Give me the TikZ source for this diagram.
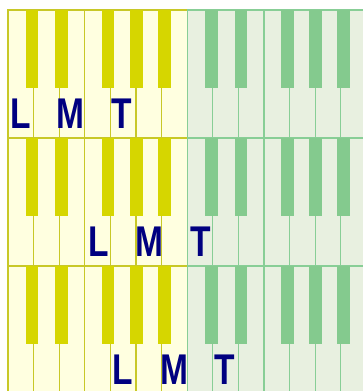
\documentclass[tikz,border=0pt]{standalone}
\usepackage{fontspec}
\setmainfont{Liberation Sans}
\definecolor{yelbg}{RGB}{255,255,224}
\definecolor{yelline}{RGB}{200,200,40}
\definecolor{yelkey}{RGB}{214,214,0}
\definecolor{grnbg}{RGB}{232,240,224}
\definecolor{grnline}{RGB}{136,206,150}
\definecolor{grnkey}{RGB}{132,202,142}
\definecolor{navy}{RGB}{0,0,128}
\begin{document}
\begin{tikzpicture}[x=1pt,y=-1pt,line join=miter,
  whitekey/.style={line width=1.3pt},
  blackkey/.style={inner sep=0pt},
  lbl/.style={font=\fontsize{43}{43}\selectfont\bfseries,text=navy,xscale=0.78,anchor=base,inner sep=0pt}]
\useasboundingbox (0,0) rectangle (363,391);
\foreach \r/\a/\b/\c in {0/0.48/2.44/4.44, 1/3.53/5.51/7.53, 2/4.5/6.49/8.45} {
  \pgfmathsetmacro\top{10+128*\r}
  % two octaves, yellow then green
  \foreach \o/\bg/\ln/\bk in {0/yelbg/yelline/yelkey, 1/grnbg/grnline/grnkey} {
    \fill[\bg] (8+179.2*\o,\top) rectangle +(179.2,128);
    \foreach \i in {0,...,6}
      \draw[whitekey,\ln] (8+179.2*\o+25.6*\i,\top) rectangle +(25.6,128);
    \foreach \k in {0.69,1.85,3.66,4.77,5.87}
      \fill[blackkey,\bk] (8+179.2*\o+25.6*\k,\top) rectangle +(12.8,78);
  }
  \node[lbl] (L\r) at (8+25.6*\a,\top+118) {L};
  \node[lbl] (M\r) at (8+25.6*\b,\top+118) {M};
  \node[lbl] (T\r) at (8+25.6*\c,\top+118) {T};
}
\end{tikzpicture}
\end{document}
